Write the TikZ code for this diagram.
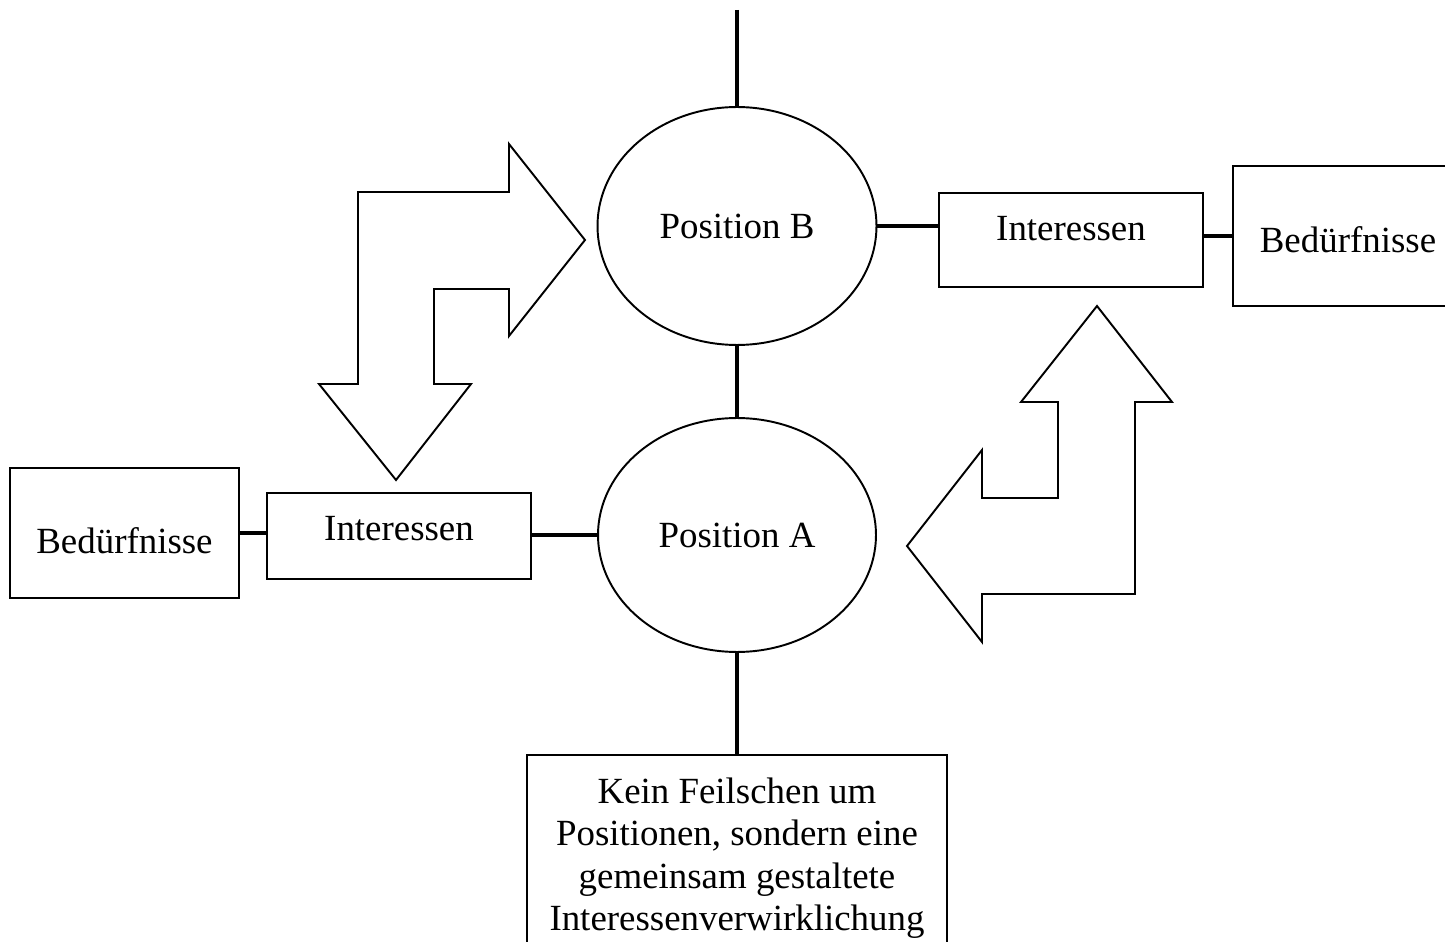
\documentclass[tikz,border=0pt]{standalone}
\usepackage{fontspec}
\setmainfont{Liberation Serif}
\usetikzlibrary{shapes.geometric}
\begin{document}
\begin{tikzpicture}[x=0.02cm, y=-0.02cm, font=\fontsize{21}{24.2}\selectfont,
		posell/.style={draw, ellipse, line width=1.1pt, inner sep=0pt},
		textbox/.style={draw, rectangle, line width=1.1pt, inner sep=0pt},
		link/.style={line width=2.3pt},
		bigarrow/.style={draw, line width=1.1pt, line join=miter}]
		\useasboundingbox (0,0) rectangle (1445,942);
		\node[posell, minimum width=5.58cm, minimum height=4.76cm] (posB) at (737,226) {Position B};
		\node[posell, minimum width=5.56cm, minimum height=4.68cm] (posA) at (737,535) {Position A};
		\node[textbox, minimum width=5.28cm, minimum height=1.88cm, text depth=0.48cm] (intR) at (1071,240) {Interessen};
		\node[textbox, minimum width=4.6cm, minimum height=2.8cm, text height=0.66cm] (bedR) at (1348,236) {Bedürfnisse};
		\node[textbox, minimum width=5.28cm, minimum height=1.72cm, text depth=0.32cm] (intL) at (399,536) {Interessen};
		\node[textbox, minimum width=4.58cm, minimum height=2.6cm, text height=0.83cm] (bedL) at (124.5,533) {Bedürfnisse};
		\node[textbox, anchor=north, minimum width=8.42cm, inner ysep=0.45cm, align=center] (goal) at (737,754) {Kein Feilschen um\\Positionen, sondern eine\\gemeinsam gestaltete\\Interessenverwirklichung};
		\coordinate (top) at (737,10);
		\draw[link] (top) -- (posB.north);
		\draw[link] (posB.south) -- (posA.north);
		\draw[link] (posA.south) -- (goal.north);
		\draw[link] (posB.east) -- (posB.east -| intR.west);
		\draw[link] (bedR.west -| intR.east) -- (bedR.west);
		\draw[link] (bedL.east) -- (bedL.east -| intL.west);
		\draw[link] (intL.east |- posA.west) -- (posA.west);
		\draw[bigarrow] (358,192) -- (509,192) -- (509,144) -- (585,240) -- (509,336) -- (509,289) -- (434,289) -- (434,384) -- (471,384) -- (396,480) -- (319,384) -- (358,384) -- cycle;
		\draw[bigarrow] (1097,306) -- (1172,402) -- (1135,402) -- (1135,594) -- (982,594) -- (982,642) -- (907,546) -- (982,450) -- (982,498) -- (1058,498) -- (1058,402) -- (1021,402) -- cycle;
	\end{tikzpicture}
\end{document}
